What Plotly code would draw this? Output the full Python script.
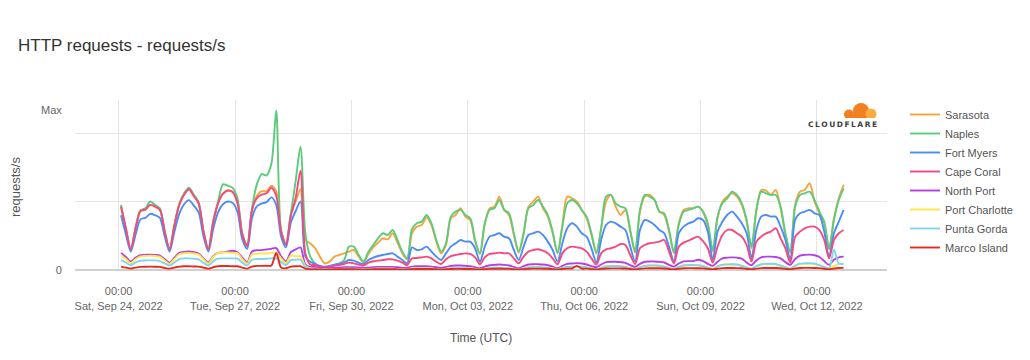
import plotly.graph_objects as go
import pandas as pd

# ---------------- data (3-hour samples, starting Sat Sep 24 2022 01:30 UTC) ----------------
start_time = "2022-09-24 01:30"
n_points = 150
step = "3h"

sarasota = [
    920, 600, 300, 620, 870, 880, 950, 920,
    880, 560, 310, 660, 960, 1110, 1180, 1080,
    970, 560, 310, 700, 980, 1120, 1160, 1140,
    990, 520, 350, 870, 1080, 1150, 1150, 1230,
    1150, 570, 370, 800, 1000, 1180, 440, 390,
    317, 195, 97, 122, 195, 219, 243, 268,
    292, 195, 112, 234, 331, 399, 463, 448,
    536, 399, 243, 156, 540, 633, 657, 770,
    657, 414, 243, 365, 755, 803, 901, 779,
    730, 420, 234, 670, 901, 925, 1071, 877,
    803, 511, 253, 526, 925, 998, 1071, 901,
    779, 536, 243, 657, 1071, 1047, 998, 877,
    755, 511, 243, 609, 998, 1096, 925, 803,
    877, 560, 253, 852, 1071, 1096, 1023, 852,
    803, 560, 243, 682, 877, 901, 901, 925,
    852, 633, 268, 755, 998, 1071, 1120, 1071,
    950, 706, 316, 852, 1169, 1159, 1096, 1169,
    901, 511, 253, 950, 1144, 1169, 1266, 998,
    828, 682, 302, 755, 1047, 1242,
]
naples = [
    950, 610, 310, 620, 870, 900, 1000, 950,
    900, 570, 310, 660, 960, 1120, 1200, 1100,
    990, 570, 310, 720, 1000, 1250, 1230, 1200,
    1050, 530, 360, 900, 1250, 1400, 1380, 1550,
    2330, 580, 380, 820, 1300, 1800, 536, 200,
    97, 49, 24, 49, 73, 97, 146, 341,
    341, 219, 122, 268, 365, 463, 536, 511,
    584, 438, 268, 170, 600, 682, 706, 803,
    682, 438, 268, 390, 779, 852, 877, 803,
    755, 438, 243, 682, 877, 901, 1023, 877,
    828, 536, 268, 536, 901, 950, 1023, 925,
    803, 560, 253, 633, 974, 1023, 974, 877,
    779, 536, 253, 609, 1071, 1096, 974, 925,
    901, 584, 268, 877, 1096, 1071, 1023, 852,
    828, 584, 268, 657, 852, 877, 901, 925,
    852, 682, 292, 779, 974, 1047, 1144, 1096,
    974, 730, 341, 877, 1144, 1120, 1096, 1096,
    925, 536, 268, 925, 1096, 1120, 1144, 1023,
    852, 706, 316, 730, 1023, 1193,
]
fort_myers = [
    800, 520, 270, 520, 740, 760, 820, 800,
    760, 490, 270, 560, 820, 960, 1020, 940,
    840, 490, 270, 600, 840, 960, 1000, 980,
    850, 450, 310, 760, 930, 970, 990, 1060,
    950, 490, 330, 690, 860, 1000, 200, 120,
    88, 60, 50, 60, 78, 90, 110, 146,
    136, 107, 88, 146, 180, 204, 219, 234,
    243, 195, 146, 97, 330, 292, 302, 341,
    268, 195, 146, 243, 341, 390, 438, 414,
    414, 317, 122, 341, 487, 511, 536, 487,
    463, 292, 146, 341, 511, 536, 560, 511,
    414, 292, 122, 390, 609, 682, 633, 536,
    487, 317, 107, 438, 657, 706, 682, 633,
    584, 341, 122, 584, 730, 706, 657, 584,
    536, 341, 122, 536, 633, 682, 706, 755,
    730, 560, 146, 560, 706, 803, 852, 779,
    682, 536, 170, 584, 779, 803, 779, 779,
    633, 438, 146, 730, 828, 852, 877, 828,
    803, 560, 195, 536, 706, 877,
]
cape_coral = [
    925, 600, 300, 610, 860, 880, 950, 930,
    880, 560, 300, 650, 950, 1100, 1180, 1080,
    970, 560, 300, 700, 970, 1110, 1160, 1140,
    980, 520, 350, 880, 1050, 1100, 1120, 1200,
    1080, 560, 370, 790, 1050, 1450, 250, 80,
    73, 49, 39, 49, 63, 73, 88, 107,
    97, 78, 63, 107, 127, 136, 146, 156,
    156, 136, 107, 73, 170, 175, 185, 195,
    170, 122, 88, 156, 204, 219, 234, 243,
    234, 185, 83, 185, 234, 243, 253, 243,
    243, 170, 97, 195, 268, 292, 302, 282,
    243, 170, 83, 243, 317, 341, 331, 317,
    268, 170, 78, 243, 302, 317, 341, 380,
    365, 219, 88, 317, 365, 390, 399, 414,
    438, 268, 97, 341, 399, 428, 463, 487,
    420, 317, 107, 341, 511, 584, 584, 536,
    487, 365, 122, 414, 487, 536, 560, 609,
    463, 317, 107, 487, 560, 609, 633, 633,
    584, 438, 170, 438, 536, 584,
]
north_port = [
    250, 190, 125, 180, 215, 220, 225, 220,
    210, 160, 105, 180, 250, 265, 270, 260,
    240, 170, 110, 200, 250, 260, 270, 280,
    260, 180, 110, 270, 290, 290, 300, 310,
    320, 200, 125, 260, 300, 330, 80, 45,
    45, 35, 30, 30, 35, 35, 40, 40,
    40, 35, 30, 35, 40, 45, 45, 45,
    45, 40, 30, 35, 50, 55, 55, 55,
    50, 40, 30, 45, 60, 65, 65, 60,
    55, 40, 25, 50, 70, 75, 80, 75,
    65, 45, 25, 55, 80, 85, 85, 80,
    70, 50, 25, 60, 90, 95, 100, 95,
    80, 55, 40, 80, 115, 120, 120, 115,
    105, 70, 45, 90, 120, 125, 125, 120,
    110, 75, 50, 95, 125, 130, 130, 150,
    130, 90, 60, 120, 170, 180, 185, 180,
    165, 110, 70, 140, 185, 195, 195, 190,
    170, 115, 75, 160, 210, 220, 225, 215,
    190, 130, 75, 150, 185, 195,
]
port_charlotte = [
    215, 160, 100, 160, 200, 205, 210, 205,
    190, 140, 90, 160, 230, 245, 250, 240,
    225, 155, 95, 190, 250, 260, 255, 250,
    245, 160, 95, 230, 235, 240, 240, 250,
    250, 170, 100, 210, 200, 200, 60, 25,
    20, 15, 10, 12, 15, 15, 18, 18,
    18, 15, 10, 15, 18, 20, 20, 20,
    20, 15, 10, 15, 22, 25, 25, 25,
    22, 15, 10, 18, 28, 30, 30, 28,
    25, 18, 10, 20, 32, 35, 35, 32,
    28, 20, 10, 25, 38, 40, 42, 40,
    35, 22, 12, 30, 45, 50, 50, 48,
    40, 25, 12, 35, 55, 60, 60, 58,
    45, 28, 15, 40, 60, 65, 65, 62,
    50, 30, 15, 45, 65, 70, 70, 68,
    55, 35, 18, 50, 75, 80, 80, 78,
    60, 38, 18, 55, 80, 85, 85, 82,
    65, 40, 20, 60, 85, 90, 90, 88,
    70, 45, 20, 60, 85, 90,
]
punta_gorda = [
    145, 110, 70, 110, 135, 140, 140, 140,
    130, 95, 65, 110, 160, 170, 170, 165,
    155, 105, 65, 130, 165, 170, 170, 170,
    165, 110, 65, 150, 160, 160, 165, 170,
    170, 115, 70, 145, 150, 150, 45, 20,
    15, 12, 10, 10, 12, 12, 15, 15,
    15, 12, 10, 12, 15, 18, 18, 18,
    18, 14, 10, 14, 20, 22, 22, 22,
    20, 14, 10, 16, 25, 28, 28, 25,
    24, 16, 10, 20, 30, 34, 34, 30,
    28, 18, 10, 24, 36, 40, 40, 38,
    32, 20, 12, 28, 44, 48, 48, 45,
    38, 24, 12, 34, 52, 58, 58, 55,
    42, 26, 14, 40, 60, 65, 65, 62,
    48, 30, 15, 45, 66, 72, 72, 70,
    55, 34, 16, 52, 76, 82, 84, 80,
    60, 38, 18, 58, 84, 90, 92, 88,
    66, 42, 20, 64, 92, 98, 100, 95,
    70, 45, 20, 300, 95, 90,
]
marco_island = [
    50, 35, 22, 35, 45, 48, 50, 48,
    45, 30, 20, 35, 50, 55, 55, 52,
    50, 35, 20, 40, 55, 58, 58, 55,
    55, 35, 20, 50, 60, 60, 62, 65,
    250, 35, 25, 50, 55, 55, 20, 10,
    10, 8, 6, 8, 10, 10, 10, 10,
    10, 8, 6, 8, 10, 12, 12, 12,
    12, 9, 6, 9, 12, 14, 14, 14,
    14, 10, 7, 10, 14, 16, 16, 15,
    15, 10, 7, 12, 16, 18, 18, 17,
    16, 11, 7, 13, 18, 20, 20, 19,
    18, 12, 8, 14, 20, 22, 60, 21,
    20, 13, 8, 16, 22, 24, 24, 23,
    21, 14, 8, 17, 24, 26, 26, 25,
    22, 15, 9, 18, 25, 27, 27, 26,
    24, 16, 9, 19, 27, 29, 29, 28,
    25, 16, 10, 20, 28, 30, 30, 29,
    26, 17, 10, 21, 29, 31, 31, 30,
    27, 18, 10, 22, 30, 31,
]

series_names = ["Sarasota", "Naples", "Fort Myers", "Cape Coral",
                "North Port", "Port Charlotte", "Punta Gorda", "Marco Island"]
series_values = [sarasota, naples, fort_myers, cape_coral,
                 north_port, port_charlotte, punta_gorda, marco_island]
series_colors = ["#f7a43d", "#5ccb7b", "#4b8df6", "#f5497f",
                 "#b83fe0", "#fde74a", "#82d4ec", "#e52b1f"]

tick_dates = ["2022-09-24", "2022-09-27", "2022-09-30", "2022-10-03",
              "2022-10-06", "2022-10-09", "2022-10-12"]
tick_labels = ["00:00<br>Sat, Sep 24, 2022", "00:00<br>Tue, Sep 27, 2022",
               "00:00<br>Fri, Sep 30, 2022", "00:00<br>Mon, Oct 03, 2022",
               "00:00<br>Thu, Oct 06, 2022", "00:00<br>Sun, Oct 09, 2022",
               "00:00<br>Wed, Oct 12, 2022"]
grid_values = [1000, 2000]

times = pd.date_range(start_time, periods=n_points, freq=step)

# ---------------- figure ----------------
FONT = "Liberation Sans, Arial, sans-serif"
OFF = 8                      # page body margin of the exported html
PAGE_L, PAGE_T = 75, 100     # plot area top-left on the page
PW, PH = 812, 170            # plot area size
W, H = 1014, 344             # figure size
L, T = PAGE_L - OFF, PAGE_T - OFF
R, B = W - L - PW, H - T - PH


def px(x):   # page x -> paper x
    return (x - PAGE_L) / PW


def py(y):   # page y -> paper y
    return (PAGE_T + PH - y) / PH


fig = go.Figure()
for name, vals, col in zip(series_names, series_values, series_colors):
    fig.add_trace(go.Scatter(x=times, y=vals, name=name, mode="lines",
                             line=dict(color=col, width=1.9, shape="spline",
                                       smoothing=0.8)))

ymax = max(max(v) for v in series_values)

fig.update_layout(
    width=W, height=H,
    margin=dict(l=L, r=R, t=T, b=B, autoexpand=False),
    paper_bgcolor="white", plot_bgcolor="white",
    font=dict(family=FONT, size=11, color="#666666"),
    title=dict(text="HTTP requests - requests/s", x=(18 - OFF) / W, xref="container",
               xanchor="left", y=1 - (45 - OFF) / H, yref="container", yanchor="middle",
               font=dict(size=17, color="#333333", family=FONT)),
    showlegend=True,
    legend=dict(x=px(905), xanchor="left", y=py(100), yanchor="top",
                font=dict(size=11, color="#555555"), bgcolor="rgba(0,0,0,0)",
                tracegroupgap=0, itemwidth=30),
    xaxis=dict(range=["2022-09-22 21:00", "2022-10-13 19:20"],
               tickmode="array", tickvals=tick_dates, ticktext=tick_labels,
               showgrid=True, gridcolor="#e6e6e6", gridwidth=1,
               zeroline=False, showline=False,
               ticks="outside", ticklen=11, tickcolor="rgba(0,0,0,0)",
               tickfont=dict(size=11, color="#666666")),
    yaxis=dict(range=[0, 2482], tickmode="array", tickvals=[0, ymax],
               ticktext=["0", "Max"], showgrid=False,
               zeroline=True, zerolinecolor="#d0d0d0", zerolinewidth=2,
               showline=False, ticks="outside", ticklen=10,
               tickcolor="rgba(0,0,0,0)",
               tickfont=dict(size=11, color="#666666"),
               minor=dict(tickvals=grid_values, showgrid=True,
                          gridcolor="#e6e6e6", gridwidth=1, ticklen=0)),
)

fig.update_layout(annotations=[
    dict(text="requests/s", x=px(15), y=py(187), xref="paper", yref="paper",
         showarrow=False, textangle=-90, font=dict(size=13, color="#555555"),
         xanchor="center", yanchor="middle"),
    dict(text="Time (UTC)", x=0.5, y=py(338), xref="paper", yref="paper",
         showarrow=False, font=dict(size=12, color="#555555"),
         xanchor="center", yanchor="middle"),
    dict(text="<b>C\u2009L\u2009O\u2009U\u2009D\u2009F\u2009L\u2009A\u2009R\u2009E</b>",
         x=px(842), y=py(124.5), xref="paper", yref="paper", showarrow=False,
         font=dict(size=7.5, color="#404041", family="DejaVu Sans, sans-serif"),
         xanchor="center", yanchor="middle"),
])


def circ(x0, y0, x1, y1, color):
    return dict(type="circle", xref="paper", yref="paper", x0=px(x0), x1=px(x1),
                y0=py(y1), y1=py(y0), fillcolor=color, line=dict(width=0), layer="above")


def rect(x0, y0, x1, y1, color):
    return dict(type="rect", xref="paper", yref="paper", x0=px(x0), x1=px(x1),
                y0=py(y1), y1=py(y0), fillcolor=color, line=dict(width=0), layer="above")


fig.update_layout(shapes=[
    circ(853, 103, 869, 119, "#f38020"),
    circ(844, 109.5, 854, 119.5, "#f38020"),
    rect(847, 114, 870, 119, "#f38020"),
    circ(865.5, 108.5, 876.5, 119.5, "#fbad41"),
    rect(840, 118, 880, 121, "white"),
])

fig.write_html("out.html")
